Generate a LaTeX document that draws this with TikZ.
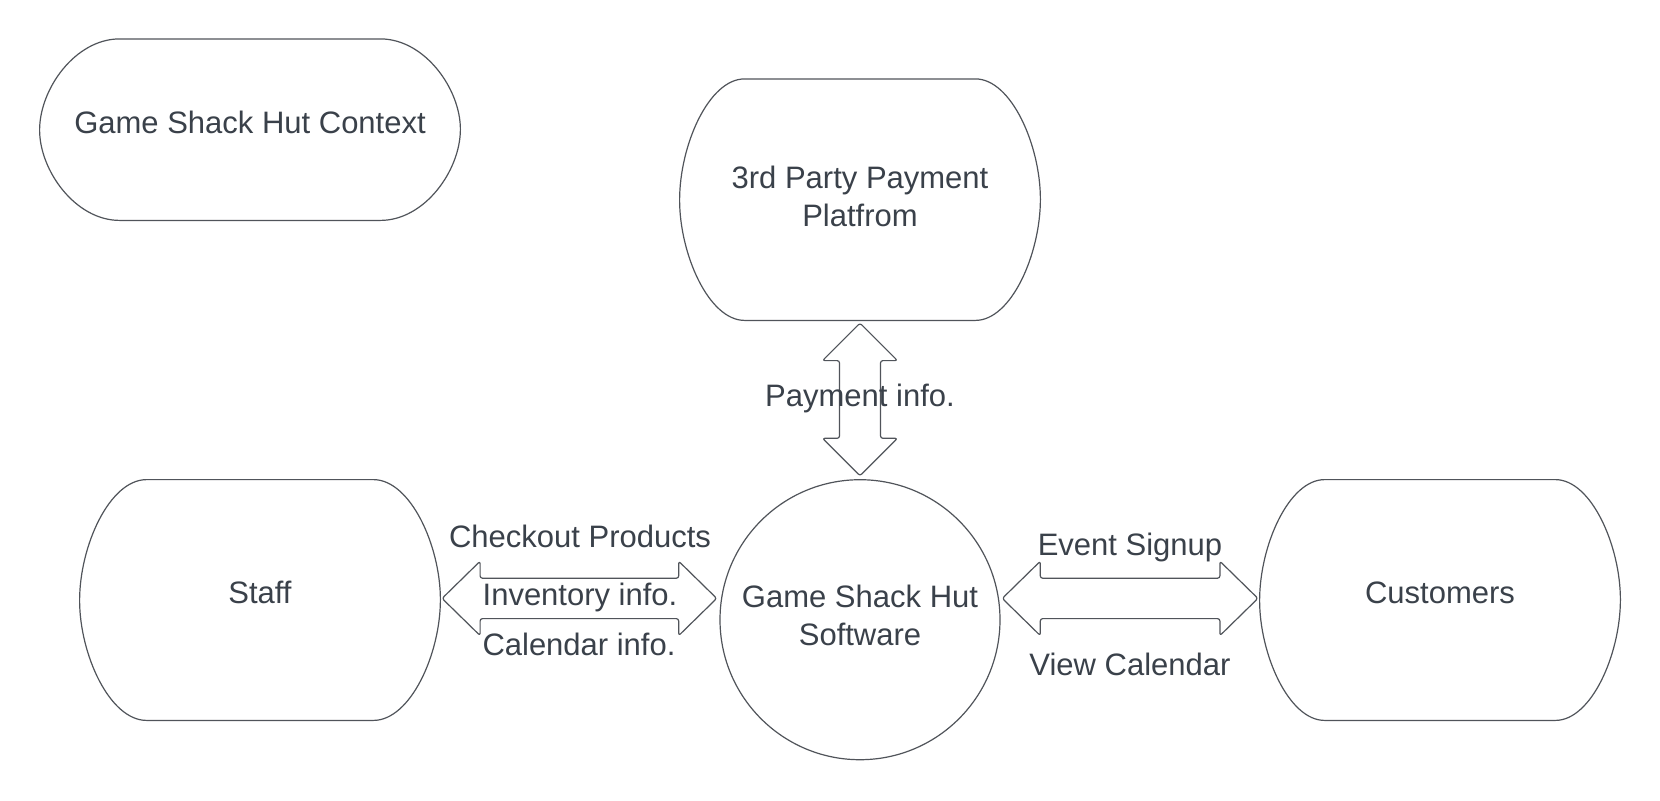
\documentclass[tikz,border=0pt]{standalone}
\usepackage{fontspec}
\setmainfont{Liberation Sans}
\usetikzlibrary{calc}
\definecolor{txtc}{RGB}{58,65,74}
\definecolor{linec}{RGB}{80,84,90}
\newcommand{\termoutline}[3]{%
 \draw[ln] let \p1=(#1.north west), \p2=(#1.south east) in
   (\x1+#2,\y1) -- (\x2-#2,\y1)
   .. controls (\x2-#2+0.5523*#2,\y1) and (\x2,\y1-0.5523*#3) .. (\x2,\y1-#3)
   .. controls (\x2,\y2+0.5523*#3) and (\x2-#2+0.5523*#2,\y2) .. (\x2-#2,\y2)
   -- (\x1+#2,\y2)
   .. controls (\x1+#2-0.5523*#2,\y2) and (\x1,\y2+0.5523*#3) .. (\x1,\y2+#3)
   .. controls (\x1,\y1-0.5523*#3) and (\x1+#2-0.5523*#2,\y1) .. cycle;}
\begin{document}
\begin{tikzpicture}[x=0.5pt,y=-0.5pt,
  every node/.style={text=txtc, font=\fontsize{15.5pt}{18.6pt}\selectfont},
  ln/.style={draw=linec, line width=0.6pt},
  blk/.style={draw=linec, line width=0.6pt, rounded corners=1.2pt, line join=round},
  term/.style={draw=none, inner sep=0pt, align=center},
  oneline/.style={text height=10.85pt, text depth=7.45pt},
  twoline/.style={inner sep=0pt, align=center},
  lbl/.style={inner sep=0pt, anchor=base}]
\fill[white] (0,0) rectangle (1660,800);
\useasboundingbox (0,0) rectangle (1660,800);

% boxes
\node[term, oneline, minimum width=210pt, minimum height=90.35pt] (ctx) at (250,129.65) {Game Shack Hut Context};
\node[term, minimum width=180pt, minimum height=120.35pt] (pay) at (860,199.65) {};
\node[twoline] (payT) at (860,196.4) {3rd Party Payment\\Platfrom};
\node[term, oneline, minimum width=180pt, minimum height=120pt] (staff) at (260,600) {Staff};
\node[term, oneline, minimum width=180pt, minimum height=120pt] (cust) at (1440,600) {Customers};
\node[ln, circle, inner sep=0pt, minimum size=140pt] (sw) at (860,619.7) {};
\node[twoline] (swT) at (860,615.4) {Game Shack Hut\\Software};

\termoutline{ctx}{40pt}{45.175pt}
\termoutline{pay}{32.5pt}{60.175pt}
\termoutline{staff}{33.5pt}{60pt}
\termoutline{cust}{32.5pt}{60pt}

% block arrows
\draw[blk] let \p1=(pay.south), \p2=(sw.north) in
  (\x1,\y1-1.35pt) -- ++(18.75pt,-18.75pt) -- ++(-8.5pt,0) -- (\x1+10.25pt,\y2+1.65pt+18.75pt)
  -- ++(8.5pt,0) -- (\x1,\y2+1.65pt) -- ++(-18.75pt,18.75pt) -- ++(8.5pt,0)
  -- (\x1-10.25pt,\y1-1.35pt-18.75pt) -- ++(-8.5pt,0) -- cycle;
\draw[blk] let \p1=(staff.east), \p2=(sw.west) in
  (\x1+0.85pt,\y1+0.8pt) -- ++(19pt,18.6pt) -- ++(0,-8.5pt) -- (\x2-1.35pt-19pt,\y1+0.8pt+10.1pt)
  -- ++(0,8.5pt) -- (\x2-1.35pt,\y1+0.8pt) -- ++(-19pt,-18.6pt) -- ++(0,8.5pt)
  -- (\x1+0.85pt+19pt,\y1+0.8pt-10.1pt) -- ++(0,-8.5pt) -- cycle;
\draw[blk] let \p1=(sw.east), \p2=(cust.west) in
  (\x1+0.85pt,\y2+0.8pt) -- ++(19pt,18.6pt) -- ++(0,-8.5pt) -- (\x2-0.85pt-19pt,\y2+0.8pt+10.1pt)
  -- ++(0,8.5pt) -- (\x2-0.85pt,\y2+0.8pt) -- ++(-19pt,-18.6pt) -- ++(0,8.5pt)
  -- (\x1+0.85pt+19pt,\y2+0.8pt-10.1pt) -- ++(0,-8.5pt) -- cycle;

% labels
\node[lbl] (lpay) at (860,406) {Payment info.};
\node[lbl] (lchk) at (580,547.3) {Checkout Products};
\node[lbl] (linv) at (580,605) {Inventory info.};
\node[lbl] (lcal) at (579,655) {Calendar info.};
\node[lbl] (levt) at (1130,555) {Event Signup};
\node[lbl] (lview) at (1130,675) {View Calendar};
\end{tikzpicture}
\end{document}
